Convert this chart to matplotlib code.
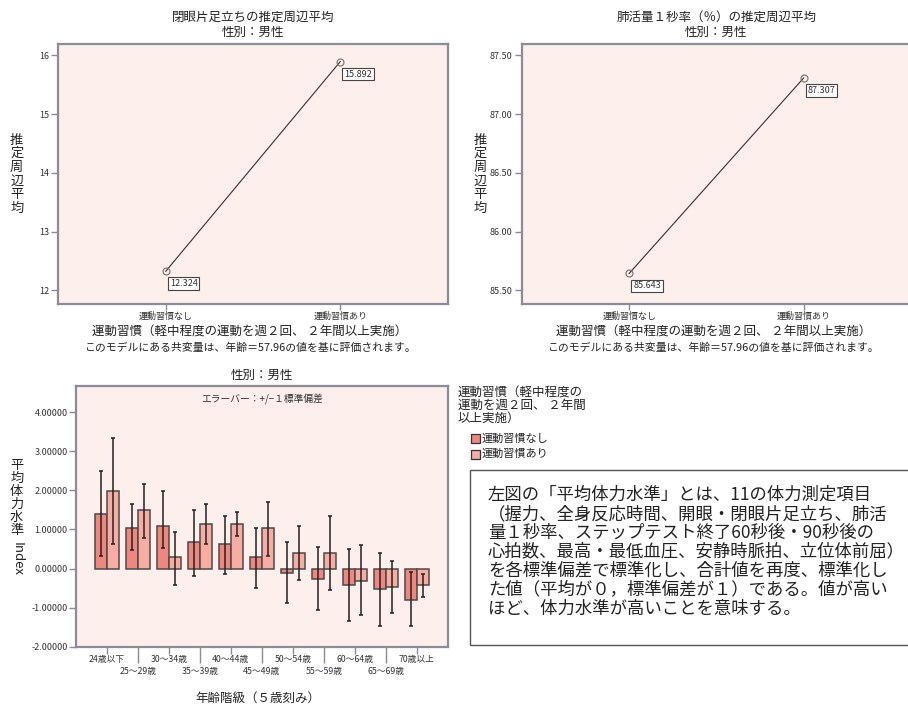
import matplotlib.pyplot as plt
from matplotlib.patches import Rectangle
import numpy as np

plt.rcParams['font.family'] = ['Noto Sans CJK JP', 'DejaVu Sans']

W, H = 908, 707

# 推定周辺平均（性別：男性）
habit_labels = ['運動習慣なし', '運動習慣あり']
balance_means = [12.324, 15.892]
fev1_means = [85.643, 87.307]

# 年齢階級別の平均体力水準（平均と ±1SD の端）
age_labels = ['24歳以下', '25〜29歳', '30〜34歳', '35〜39歳', '40〜44歳', '45〜49歳',
              '50〜54歳', '55〜59歳', '60〜64歳', '65〜69歳', '70歳以上']
level_none = [1.39, 1.04, 1.08, 0.69, 0.64, 0.29, -0.12, -0.26, -0.43, -0.53, -0.80]
level_none_lo = [0.31, 0.47, 0.52, -0.18, -0.14, -0.49, -0.88, -1.07, -1.33, -1.48, -1.48]
level_none_hi = [2.49, 1.64, 1.99, 1.50, 1.34, 1.04, 0.69, 0.54, 0.49, 0.39, -0.10]
level_yes = [1.98, 1.49, 0.29, 1.13, 1.13, 1.04, 0.39, 0.39, -0.31, -0.46, -0.43]
level_yes_lo = [0.62, 0.77, -0.43, 0.62, 0.82, 0.31, -0.29, -0.54, -1.18, -1.13, -0.73]
level_yes_hi = [3.34, 2.15, 0.94, 1.64, 1.45, 1.69, 1.09, 1.34, 0.60, 0.20, -0.15]

note_lines = [
    '左図の「平均体力水準」とは、11の体力測定項目',
    '（握力、全身反応時間、開眼・閉眼片足立ち、肺活',
    '量１秒率、ステップテスト終了60秒後・90秒後の',
    '心拍数、最高・最低血圧、安静時脈拍、立位体前屈）',
    'を各標準偏差で標準化し、合計値を再度、標準化し',
    'た値（平均が０，標準偏差が１）である。値が高い',
    'ほど、体力水準が高いことを意味する。',
]

BG = '#fdefec'
FRAME = '#8a8c9a'
TXT = '#222222'
C_NONE = '#f0877f'
C_YES = '#f8aca2'


def box(l, t, r, b):
    return [l / W, 1 - b / H, (r - l) / W, (b - t) / H]


def fx(x):
    return x / W


def fy(y):
    return 1 - y / H


def style_axes(ax):
    ax.set_facecolor(BG)
    for s in ax.spines.values():
        s.set_color(FRAME)
        s.set_linewidth(1.6)
    ax.tick_params(axis='both', direction='out', color=FRAME, width=1.0,
                   labelsize=6.5, labelcolor='#333333')


def vertical_label(x, y0, step, text):
    for i, ch in enumerate(text):
        fig.text(fx(x), fy(y0 + i * step), ch, ha='center', va='center',
                 fontsize=9.5, color=TXT)


fig = plt.figure(figsize=(W / 100, H / 100), dpi=100)


def means_panel(left, means, ylim, yticks, yfmt, title):
    ax = fig.add_axes(box(left, 43.7, left + 389.4, 304))
    style_axes(ax)
    x = np.arange(len(means))
    ax.plot(x, means, color='#3a2f2f', lw=0.8, marker='o', ms=5,
            mfc='none', mec='#707070', mew=0.8)
    for xi, v in zip(x, means):
        ax.annotate(f'{v:.3f}', (xi, v), xytext=(4, -8), textcoords='offset pixels',
                    ha='left', va='top', fontsize=6.5, color='#333333',
                    bbox=dict(boxstyle='square,pad=0.2', fc='white', ec='#444444', lw=0.8))
    ax.set_xlim(-0.616, 1.616)
    ax.set_ylim(*ylim)
    ax.set_xticks(x)
    ax.set_xticklabels(habit_labels)
    ax.set_yticks(yticks)
    ax.set_yticklabels([yfmt.format(t) for t in yticks])
    ax.tick_params(axis='y', length=5, pad=1.5)
    ax.tick_params(axis='x', length=4.5, pad=1)
    cx = left + 194.7
    fig.text(fx(cx), fy(17), title, ha='center', va='center', fontsize=9, color=TXT)
    fig.text(fx(cx), fy(32), '性別：男性', ha='center', va='center', fontsize=9, color=TXT)
    fig.text(fx(cx - 3), fy(332), '運動習慣（軽中程度の運動を週２回、 ２年間以上実施）',
             ha='center', va='center', fontsize=9, color=TXT)
    fig.text(fx(cx - 3), fy(348), 'このモデルにある共変量は、年齢＝57.96の値を基に評価されます。',
             ha='center', va='center', fontsize=7.8, color=TXT)
    vertical_label(left - 41.6, 140, 13.7, '推定周辺平均')
    return ax


means_panel(58.3, balance_means, (11.767, 16.197), [12, 13, 14, 15, 16], '{:d}',
            '閉眼片足立ちの推定周辺平均')
means_panel(521.7, fev1_means, (85.383, 87.599), [85.5, 86.0, 86.5, 87.0, 87.5], '{:.2f}',
            '肺活量１秒率（％）の推定周辺平均')

# 年齢階級別の棒グラフ
ax3 = fig.add_axes(box(76, 386, 447.7, 646.7))
style_axes(ax3)
xg = np.arange(len(age_labels))
bw = 0.387
none = np.array(level_none)
yes = np.array(level_yes)
ax3.bar(xg - bw / 2, none, bw, color=C_NONE, edgecolor='#4a4a4a', lw=1.1, zorder=2)
ax3.bar(xg + bw / 2, yes, bw, color=C_YES, edgecolor='#4a4a4a', lw=1.1, zorder=2)
ax3.errorbar(xg - bw / 2, none, yerr=[none - np.array(level_none_lo), np.array(level_none_hi) - none],
             fmt='none', ecolor='#222222', elinewidth=1.1, capsize=1.5, capthick=1.1, zorder=3)
ax3.errorbar(xg + bw / 2, yes, yerr=[yes - np.array(level_yes_lo), np.array(level_yes_hi) - yes],
             fmt='none', ecolor='#222222', elinewidth=1.1, capsize=1.5, capthick=1.1, zorder=3)
ax3.set_xlim(-1, 11)
ax3.set_ylim(-2, 4.67)
yt = [-2, -1, 0, 1, 2, 3, 4]
ax3.set_yticks(yt)
ax3.set_yticklabels([f'{t:.5f}' for t in yt])
ax3.tick_params(axis='y', length=5, pad=1)
ax3.set_xticks(xg[::2])
ax3.set_xticklabels(age_labels[::2])
ax3.set_xticks(xg[1::2], minor=True)
ax3.set_xticklabels(age_labels[1::2], minor=True)
ax3.tick_params(axis='x', which='major', length=4.8, pad=1, labelsize=6.3)
ax3.tick_params(axis='x', which='minor', length=11.7, pad=3, labelsize=6.3,
                direction='out', color=FRAME, width=1.0, labelcolor='#333333')
ax3.text(0.5, 0.95, 'エラーバー：+/−１標準偏差', transform=ax3.transAxes,
         ha='center', va='center', fontsize=7, color='#333333')
fig.text(fx(262), fy(375), '性別：男性', ha='center', va='center', fontsize=9, color=TXT)
fig.text(fx(258), fy(699), '年齢階級（５歳刻み）', ha='center', va='center', fontsize=9, color=TXT)
vertical_label(16.7, 466, 12.9, '平均体力水準')
fig.text(fx(16.7), fy(559), 'Index', ha='center', va='center', rotation=-90,
         fontsize=9.5, color=TXT)

# 凡例
for i, line in enumerate(['運動習慣（軽中程度の', '運動を週２回、 ２年間', '以上実施）']):
    fig.text(fx(458), fy(393 + i * 12.6), line, ha='left', va='center', fontsize=9, color=TXT)
for i, (lab, col) in enumerate(zip(habit_labels, [C_NONE, C_YES])):
    yc = 439 + i * 15
    fig.patches.append(Rectangle((fx(471), fy(yc + 4.5)), 9 / W, 9 / H, transform=fig.transFigure,
                                 fc=col, ec='#333333', lw=0.9))
    fig.text(fx(482), fy(yc), lab, ha='left', va='center', fontsize=8, color=TXT)

# 説明文の枠
fig.patches.append(Rectangle((fx(470), fy(645)), 450 / W, 175 / H, transform=fig.transFigure,
                             fill=False, ec='#555555', lw=1.0))
for i, line in enumerate(note_lines):
    fig.text(fx(488), fy(495 + i * 18.9), line, ha='left', va='center', fontsize=12.5, color=TXT)

fig.savefig('out.png', dpi=100)
